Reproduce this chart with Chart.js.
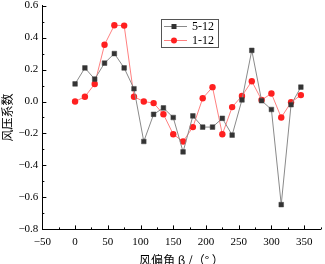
<!DOCTYPE html>
<html>
<head>
<meta charset="utf-8">
<script src="https://cdn.jsdelivr.net/npm/chart.js@4.4.0/dist/chart.umd.min.js"></script>
<style>
  html, body { margin: 0; padding: 0; background: #fff; overflow: hidden; }
  #wrap { width: 325px; height: 269px; position: relative; margin-top: -5px; }
</style>
</head>
<body>
<div id="wrap"><canvas id="chart"></canvas></div>
<script>
// 风偏角 (°)
const angles = [0, 15, 30, 45, 60, 75, 90, 105, 120, 135, 150, 165, 180, 195, 210, 225, 240, 255, 270, 285, 300, 315, 330, 345];
// 风压系数
const series512 = [0.11, 0.21, 0.14, 0.24, 0.30, 0.21, 0.08, -0.25, -0.08, -0.04, -0.10, -0.315, -0.09, -0.16, -0.16, -0.105, -0.21, 0.01, 0.32, 0.005, -0.05, -0.645, -0.02, 0.09];
const series112 = [0.0, 0.03, 0.11, 0.355, 0.477, 0.475, 0.03, 0.0, -0.01, -0.08, -0.205, -0.25, -0.16, 0.02, 0.09, -0.205, -0.035, 0.035, 0.127, 0.01, 0.05, -0.10, -0.005, 0.04];
const seriesNames = ['5-12', '1-12'];
const xTicks = [-50, 0, 50, 100, 150, 200, 250, 300, 350];
const yTicks = [-0.8, -0.6, -0.4, -0.2, 0.0, 0.2, 0.4, 0.6];

const serif = "'Liberation Serif', 'Noto Sans CJK SC', serif";
const cjk = "'Noto Sans CJK SC', 'Liberation Serif', serif";

function fmt(v, d) {
  const s = Math.abs(v).toFixed(d);
  return v < -1e-9 ? '\u2212' + s : s;
}

// 内向刻度 + 图例
const axisTicks = {
  id: 'axisTicks',
  afterDraw(chart) {
    const c = chart.ctx, x = chart.scales.x, y = chart.scales.y;
    const a = chart.chartArea;
    c.save();
    c.strokeStyle = '#000';
    c.lineWidth = 1;
    c.beginPath();
    for (let v = -50; v <= 375; v += 25) {
      const px = Math.round(x.getPixelForValue(v)) + 0.5;
      const len = (v % 50 === 0) ? 4 : 2;
      c.moveTo(px, a.bottom);
      c.lineTo(px, a.bottom - len);
    }
    for (let i = -8; i <= 6; i++) {
      const py = Math.round(y.getPixelForValue(i / 10)) + 0.5;
      const len = (i % 2 === 0) ? 4 : 2;
      c.moveTo(a.left, py);
      c.lineTo(a.left + len, py);
    }
    c.stroke();

    // legend (canvas is shifted up 5px)
    const bx = 161.5, by = 24.5, bw = 57, bh = 28;
    c.strokeStyle = '#555';
    c.strokeRect(bx, by, bw, bh);
    const rows = [
      { y: 31.5, line: '#8a8a8a', fill: '#333', shape: 'sq', name: seriesNames[0] },
      { y: 45.5, line: '#ff8080', fill: '#ff2020', shape: 'ci', name: seriesNames[1] }
    ];
    c.font = '12px ' + serif;
    c.textBaseline = 'middle';
    rows.forEach(r => {
      c.strokeStyle = r.line;
      c.beginPath();
      c.moveTo(164, r.y);
      c.lineTo(187, r.y);
      c.stroke();
      c.fillStyle = r.fill;
      if (r.shape === 'sq') {
        c.fillRect(171.5, r.y - 2.5, 5, 5);
      } else {
        c.beginPath();
        c.arc(174, r.y, 3, 0, Math.PI * 2);
        c.fill();
      }
      c.fillStyle = '#000';
      c.fillText(r.name, 192, r.y + 0.5);
    });
    c.restore();
  }
};

const ctx = document.getElementById('chart').getContext('2d');

new Chart(ctx, {
  type: 'line',
  data: {
    datasets: [{
      label: seriesNames[0],
      data: angles.map((a, i) => ({ x: a, y: series512[i] })),
      borderColor: '#8a8a8a',
      borderWidth: 1,
      pointStyle: 'rect',
      pointRadius: 3.3,
      pointBackgroundColor: '#333',
      pointBorderColor: '#444',
      pointBorderWidth: 0.5,
      tension: 0
    }, {
      label: seriesNames[1],
      data: angles.map((a, i) => ({ x: a, y: series112[i] })),
      borderColor: '#ff8080',
      borderWidth: 1,
      pointStyle: 'circle',
      pointRadius: 3.2,
      pointBackgroundColor: '#ff2020',
      pointBorderColor: '#ff2020',
      pointBorderWidth: 0,
      tension: 0
    }]
  },
  options: {
    responsive: true,
    maintainAspectRatio: false,
    animation: false,
    layout: { padding: { top: 0, right: 0, left: 0, bottom: 0 } },
    plugins: {
      legend: { display: false },
      tooltip: { enabled: false }
    },
    scales: {
      x: {
        type: 'linear',
        min: -50,
        max: 375,
        afterBuildTicks: (s) => { s.ticks = xTicks.map(v => ({ value: v })); },
        grid: { display: false, drawTicks: false },
        border: { display: true, color: '#000', width: 1 },
        ticks: {
          padding: 6,
          color: '#000',
          maxRotation: 0,
          font: { size: 11, family: serif },
          callback: (v) => fmt(v, 0)
        },
        title: {
          display: true,
          text: '风偏角 β /（° ）',
          color: '#000',
          padding: { top: -1, bottom: -4 },
          font: { size: 12, family: cjk }
        }
      },
      y: {
        min: -0.8,
        max: 0.6,
        afterBuildTicks: (s) => { s.ticks = yTicks.map(v => ({ value: v })); },
        grid: { display: false, drawTicks: false },
        border: { display: true, color: '#000', width: 1 },
        ticks: {
          padding: 4,
          color: '#000',
          font: { size: 11, family: serif },
          callback: (v) => fmt(v, 1)
        },
        title: {
          display: true,
          text: '风压系数',
          color: '#000',
          padding: { top: 0, bottom: 0 },
          font: { size: 12, family: cjk }
        }
      }
    }
  },
  plugins: [axisTicks]
});
</script>
</body>
</html>
